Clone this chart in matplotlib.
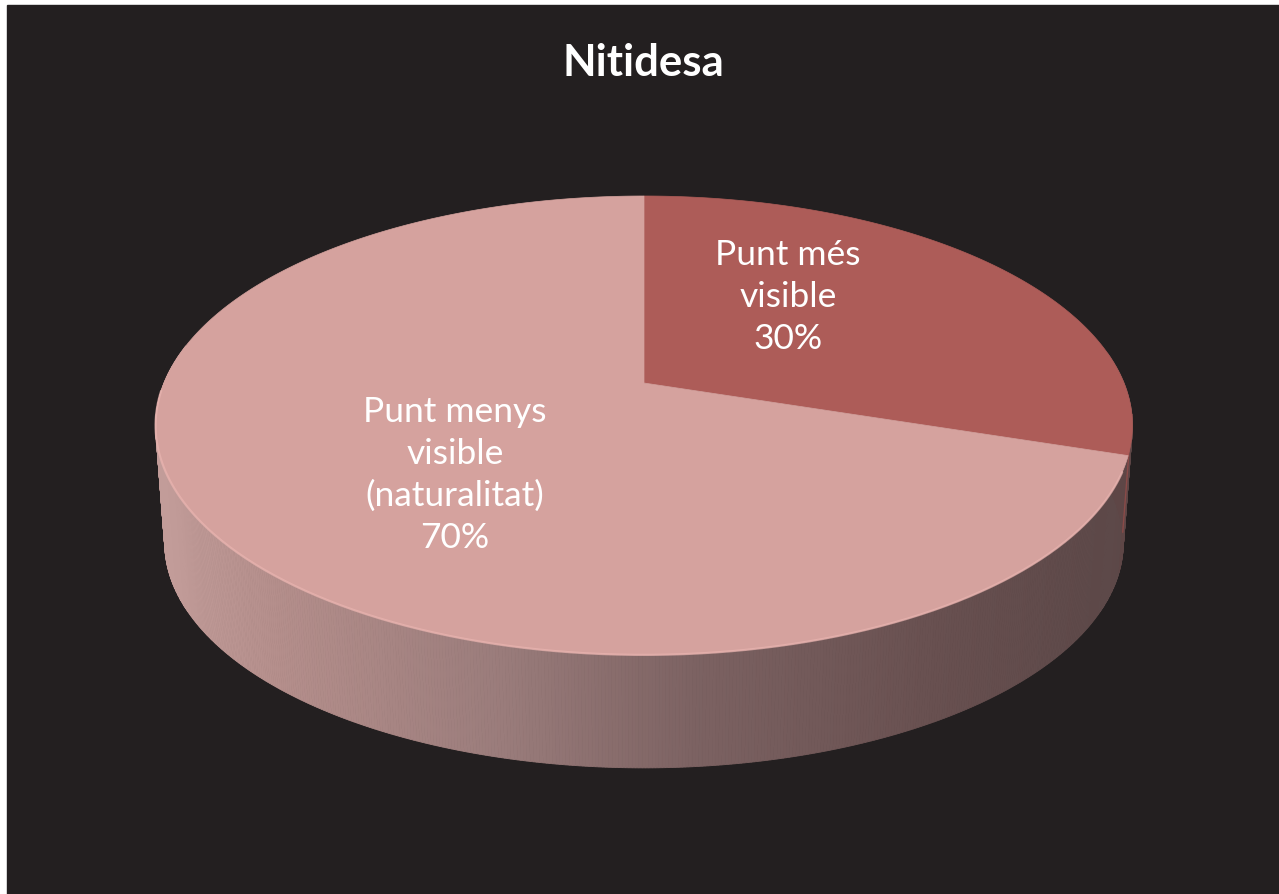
import numpy as np
import matplotlib
matplotlib.use("Agg")
import matplotlib.pyplot as plt
from matplotlib.patches import Polygon, Rectangle
from matplotlib.colors import LinearSegmentedColormap

# --- data -------------------------------------------------------------
title = "Nitidesa"
categories = ["Punt més\nvisible", "Punt menys\nvisible\n(naturalitat)"]
values = [30, 70]
top_colors = ["#AD5C58", "#D5A29E"]

# --- geometry of the tilted disc (pixel-like units) ------------------
W, H = 1279, 894
CX = 644
PERSP = 0.185
TOP = dict(y0=383.0, R=480.0, B=221.6)
BOT = dict(y0=501.0, R=471.0, B=217.5)


def project(theta_deg, face):
    t = np.radians(theta_deg)
    c, s = np.cos(t), np.sin(t)
    d = 1.0 + PERSP * s
    return CX + face["R"] * c / d, face["y0"] - face["B"] * s / d


fig = plt.figure(figsize=(W / 100, H / 100), dpi=100, facecolor="white")
ax = fig.add_axes([0, 0, 1, 1])
ax.set_xlim(0, W)
ax.set_ylim(H, 0)
ax.axis("off")
ax.add_patch(Rectangle((7, 5), W - 7, H - 5, color="#231F20", zorder=0))

font = ["Lato", "DejaVu Sans"]

# slice angles (start at 12 o'clock, clockwise)
total = float(sum(values))
starts, ends = [], []
a = 90.0
for v in values:
    starts.append(a)
    a -= 360.0 * v / total
    ends.append(a)

side_cmap = LinearSegmentedColormap.from_list(
    "side",
    [(0.0, "#C29C99"), (0.12, "#B48E8B"), (0.35, "#9A7C7B"),
     (0.55, "#7C6262"), (0.8, "#685050"), (1.0, "#5C4848")])


def side_color(x):
    return side_cmap(np.clip((x - 160) / (1135 - 160), 0, 1))


# visible wall of the disc, drawn as thin vertical strips
thetas = np.linspace(-190, 8, 600)
for t0, t1 in zip(thetas[:-1], thetas[1:]):
    tm = 0.5 * (t0 + t1)
    tn = tm
    while tn > 90:
        tn -= 360
    while tn <= -270:
        tn += 360
    idx = 0 if tn > ends[0] else 1
    xa, ya = project(t0, TOP)
    xb, yb = project(t1, TOP)
    xc, yc = project(t1, BOT)
    xd, yd = project(t0, BOT)
    col = side_color(0.5 * (xa + xb))
    if idx == 0:
        col = "#5E4646"
    ax.add_patch(Polygon([(xa, ya), (xb, yb), (xc, yc), (xd, yd)],
                         closed=True, facecolor=col, edgecolor=col,
                         linewidth=0.6, zorder=1))

# thin reddish edge on the right of the wall
tt = np.linspace(-12, -8, 20)
xr1, yr1 = project(tt, TOP)
xr2, yr2 = project(tt, BOT)
ax.plot([xr1[-1], xr2[-1]], [yr1[-1], yr2[-1]], color="#8A4A48",
        linewidth=1.0, zorder=2)

# top faces
for i, (s0, s1) in enumerate(zip(starts, ends)):
    th = np.linspace(s0, s1, 400)
    xs, ys = project(th, TOP)
    apex = (CX, TOP["y0"])
    pts = [apex] + list(zip(xs, ys))
    ax.add_patch(Polygon(pts, closed=True, facecolor=top_colors[i],
                         edgecolor=top_colors[i], linewidth=0.5, zorder=3))

# soft highlight along the front rim
th = np.linspace(-178, -22, 300)
xs, ys = project(th, TOP)
ax.plot(xs, ys, color="#EAB5B1", linewidth=1.6, alpha=0.7, zorder=4,
        solid_capstyle="round")

# labels
label_pos = [(788, 297), (455, 475)]
for cat, v, (lx, ly) in zip(categories, values, label_pos):
    ax.text(lx, ly, f"{cat}\n{v}%", ha="center", va="center",
            color="white", fontsize=25.5, family=font, linespacing=1.38,
            zorder=5)

ax.text(643, 63, title, ha="center", va="center", color="white",
        fontsize=31.5, fontweight="bold", family=font, zorder=5)

fig.savefig("out.png", dpi=100, facecolor=fig.get_facecolor())
